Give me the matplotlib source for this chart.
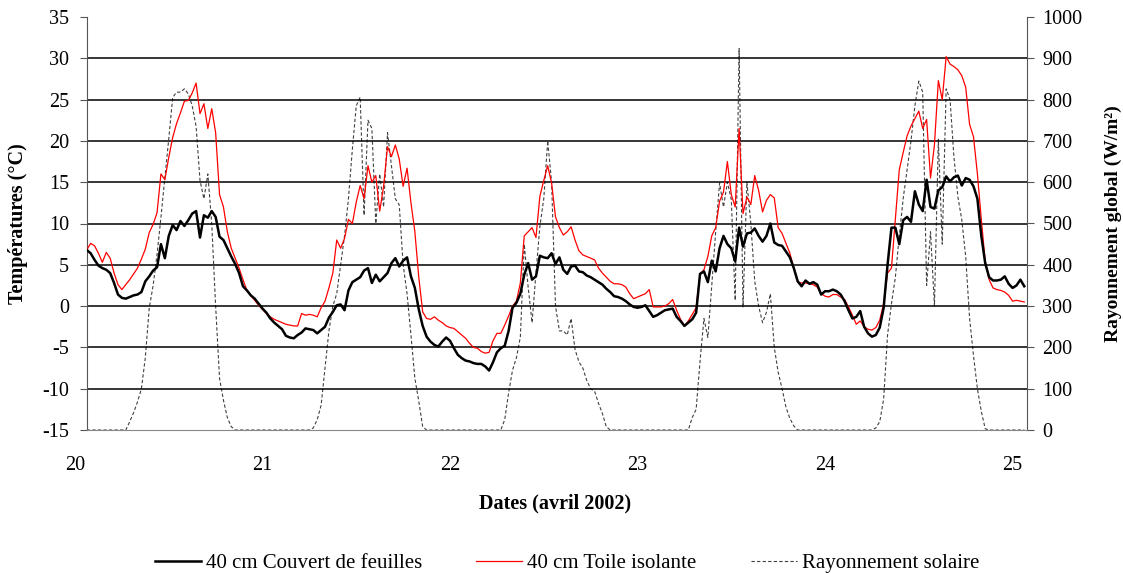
import numpy as np
import matplotlib
matplotlib.use('Agg')
import matplotlib.pyplot as plt
import matplotlib.transforms as mtransforms

plt.rcParams['font.family'] = ['Liberation Serif', 'DejaVu Serif']
plt.rcParams['axes.unicode_minus'] = False

# mesures toutes les 30 min, a partir du 20 avril 1h30
heures = np.arange(241) * 0.5 + 1.5
dates = 20 + heures / 24.0

# 40 cm Couvert de feuilles (°C)
couvert = [
    6.8, 6.4, 5.6, 4.9, 4.6, 4.4, 4.0, 2.8, 1.4, 1.0,
    0.9, 1.1, 1.3, 1.4, 1.7, 3.0, 3.6, 4.3, 4.7, 7.5,
    5.8, 8.5, 9.8, 9.2, 10.3, 9.7, 10.4, 11.2, 11.5, 8.3,
    11.0, 10.7, 11.5, 10.8, 8.4, 8.0, 7.0, 6.0, 5.1, 4.0,
    2.4, 1.9, 1.3, 0.9, 0.3, -0.3, -0.8, -1.5, -2.0, -2.4,
    -2.8, -3.6, -3.8, -3.9, -3.5, -3.2, -2.7, -2.8, -2.9, -3.3,
    -2.9, -2.5, -1.4, -0.7, 0.1, 0.2, -0.5, 1.9, 2.9, 3.2,
    3.5, 4.3, 4.6, 2.8, 3.8, 3.0, 3.5, 4.0, 5.2, 5.8,
    4.8, 5.5, 5.9, 3.6, 2.2, -0.4, -2.4, -3.7, -4.3, -4.7,
    -4.9, -4.3, -3.8, -4.2, -5.1, -5.9, -6.3, -6.6, -6.7, -6.9,
    -7.0, -7.0, -7.3, -7.8, -6.8, -5.6, -5.1, -4.8, -3.0, -0.2,
    0.4, 1.5, 3.8, 5.2, 3.2, 3.6, 6.1, 5.9, 5.8, 6.4,
    5.1, 5.9, 4.4, 3.9, 4.8, 4.9, 4.2, 4.1, 3.7, 3.5,
    3.2, 2.9, 2.6, 2.1, 1.7, 1.2, 1.1, 0.9, 0.6, 0.2,
    -0.1, -0.2, -0.1, 0.1, -0.6, -1.3, -1.1, -0.8, -0.5, -0.4,
    -0.3, -1.3, -1.8, -2.4, -2.0, -1.6, -0.8, 3.9, 4.2, 2.9,
    5.5, 4.2, 7.0, 8.5, 7.5, 7.0, 5.4, 9.5, 7.2, 8.8,
    8.9, 9.4, 8.5, 7.8, 8.5, 10.0, 7.7, 7.4, 7.3, 6.6,
    5.9, 4.6, 3.0, 2.4, 3.1, 2.7, 2.9, 2.6, 1.4, 1.8,
    1.8, 2.0, 1.8, 1.4, 0.6, -0.5, -1.5, -1.3, -0.6, -2.5,
    -3.3, -3.7, -3.5, -2.6, -0.2, 5.0, 9.5, 9.5, 7.5, 10.4,
    10.8, 10.2, 13.9, 12.3, 11.5, 15.3, 12.0, 11.8, 14.0, 14.4,
    15.7, 15.1, 15.6, 15.8, 14.6, 15.5, 15.3, 14.5, 13.0, 8.5,
    5.2, 3.5, 3.1, 3.1, 3.2, 3.6, 2.7, 2.2, 2.5, 3.2,
    2.4,
]

# 40 cm Toile isolante (°C)
toile = [
    6.8, 7.6, 7.3, 6.4, 5.3, 6.5, 5.8, 4.0, 2.6, 2.0,
    2.6, 3.2, 3.9, 4.6, 5.7, 6.9, 8.9, 9.9, 11.3, 16.0,
    15.3, 18.0, 20.4, 22.1, 23.4, 24.8, 24.9, 25.8, 27.0, 23.3,
    24.5, 21.5, 23.9, 21.0, 13.5, 12.0, 9.0, 7.0, 5.8, 4.6,
    3.2, 1.9, 1.3, 0.7, 0.1, -0.4, -0.9, -1.3, -1.6, -1.8,
    -2.0, -2.2, -2.3, -2.4, -2.4, -0.9, -1.1, -1.0, -1.1, -1.3,
    -0.2, 0.6, 2.2, 4.0, 8.0, 7.0, 8.2, 10.5, 10.0, 12.6,
    14.6, 13.0, 17.0, 15.0, 15.8, 11.5, 14.5, 19.3, 18.1, 19.5,
    17.8, 14.5, 16.7, 12.5, 9.0, 3.5, -0.7, -1.5, -1.6, -1.3,
    -1.7, -2.0, -2.4, -2.6, -2.7, -3.1, -3.5, -3.9, -4.5, -5.0,
    -5.1, -5.5, -5.7, -5.6, -4.2, -3.3, -3.3, -2.3, -1.2, 0.0,
    0.6, 2.8, 8.5, 9.0, 9.5, 8.3, 13.3, 15.2, 17.0, 14.9,
    10.8, 9.5, 8.6, 9.0, 9.6, 8.0, 6.7, 6.2, 6.0, 5.8,
    5.6, 4.6, 4.0, 3.5, 3.0, 2.7, 2.7, 2.6, 2.3, 1.5,
    0.9, 1.1, 1.3, 1.5, 2.0, -0.1, -0.1, -0.1, 0.0, 0.3,
    0.8, -0.5, -1.6, -2.4, -1.8, -1.0, -0.2, 3.9, 4.4, 6.0,
    8.5, 9.5, 12.7, 13.8, 17.5, 13.5, 12.0, 21.5, 11.2, 13.2,
    12.3, 15.8, 14.0, 11.4, 12.8, 13.5, 13.1, 9.5, 8.8, 7.6,
    6.4, 4.6, 2.9, 2.8, 2.8, 2.7, 2.6, 2.3, 1.5, 1.2,
    1.1, 1.4, 1.4, 1.1, 0.8, -0.1, -1.1, -2.2, -1.8, -2.5,
    -2.8, -2.9, -2.6, -1.7, 0.3, 4.0, 4.6, 10.5, 16.5, 18.6,
    20.6, 21.8, 22.7, 23.6, 21.5, 22.6, 15.5, 19.5, 27.3, 25.0,
    30.2, 29.3, 29.0, 28.6, 27.9, 26.5, 22.0, 20.5, 16.0, 10.5,
    5.4, 3.2, 2.2, 2.0, 1.9, 1.7, 1.3, 0.6, 0.7, 0.6,
    0.5,
]

# Rayonnement solaire (W/m2)
rayonnement = [
    0, 0, 0, 0, 0, 0, 0, 0, 0, 0,
    0, 20, 42, 68, 100, 175, 295, 350, 425, 515,
    610, 705, 805, 818, 818, 826, 814, 785, 735, 604,
    560, 620, 500, 300, 125, 72, 30, 8, 0, 0,
    0, 0, 0, 0, 0, 0, 0, 0, 0, 0,
    0, 0, 0, 0, 0, 0, 0, 0, 5, 25,
    60, 150, 240, 300, 330, 400, 470, 560, 680, 785,
    806, 520, 750, 730, 500, 620, 540, 720, 640, 560,
    545, 400, 330, 230, 125, 70, 8, 0, 0, 0,
    0, 0, 0, 0, 0, 0, 0, 0, 0, 0,
    0, 0, 0, 0, 0, 0, 0, 25, 90, 145,
    175, 225, 450, 346, 260, 380, 493, 560, 700, 600,
    300, 240, 240, 230, 270, 195, 165, 150, 120, 100,
    94, 65, 40, 8, 0, 0, 0, 0, 0, 0,
    0, 0, 0, 0, 0, 0, 0, 0, 0, 0,
    0, 0, 0, 0, 0, 30, 50, 167, 270, 224,
    350, 480, 598, 540, 600, 558, 314, 924, 298, 600,
    500, 360, 300, 260, 285, 330, 200, 140, 100, 55,
    28, 10, 0, 0, 0, 0, 0, 0, 0, 0,
    0, 0, 0, 0, 0, 0, 0, 0, 0, 0,
    0, 0, 5, 20, 75, 230, 306, 370, 470, 560,
    630, 700, 785, 845, 818, 350, 480, 300, 704, 450,
    826, 800, 660, 565, 509, 420, 270, 180, 100, 45,
    3, 0, 0, 0, 0, 0, 0, 0, 0, 0,
    0,
]

jours = [20, 21, 22, 23, 24, 25]
temp_ticks = list(range(-15, 36, 5))
ray_ticks = list(range(0, 1001, 100))

fig = plt.figure(figsize=(11.23, 5.73), dpi=100)
ax = fig.add_axes([87 / 1123, 1 - 430 / 573, 940 / 1123, 413 / 573])
ax2 = ax.twinx()
ax.set_zorder(2)
ax2.set_zorder(1)
ax.patch.set_visible(False)

for v in temp_ticks[1:-1]:
    ax.axhline(v, color='black', lw=1.1, zorder=1)

l3, = ax2.plot(dates, rayonnement, color='#404040', lw=0.8, dashes=(3, 2))
l2, = ax.plot(dates, toile, color='red', lw=0.9, zorder=3)
l1, = ax.plot(dates, couvert, color='black', lw=1.8, zorder=4)

ax.set_xlim(20.064, 25.077)
ax.set_ylim(-15, 35)
ax2.set_ylim(0, 1000)
ax.set_yticks(temp_ticks)
ax2.set_yticks(ray_ticks)
ax.set_xticks([])

for a in (ax, ax2):
    a.spines['top'].set_visible(False)
ax.spines['right'].set_visible(False)
ax2.spines['left'].set_visible(False)
ax2.spines['bottom'].set_visible(False)
ax.spines['left'].set_color('#555555')
ax.spines['bottom'].set_color('#888888')
ax2.spines['right'].set_color('#555555')

ax.tick_params(axis='y', direction='out', length=5, width=0.8, color='#555555',
               pad=8, labelsize=14.5)
ax2.tick_params(axis='y', direction='out', length=5, width=0.8, color='#555555',
                pad=6, labelsize=14.5)

trans = mtransforms.blended_transform_factory(ax.transData, ax.transAxes)
for d in jours:
    ax.text(d, -0.087, str(d), transform=trans, ha='center', va='center',
            fontsize=14.5, clip_on=False)

ax.set_ylabel('Températures (°C)', fontsize=14.5, fontweight='bold')
ax.yaxis.set_label_coords(-0.0625, 0.5)
ax2.set_ylabel('Rayonnement global (W/m²)', fontsize=14, fontweight='bold')
ax2.yaxis.set_label_coords(1.083, 0.5)
fig.text(555 / 1123, 1 - 503 / 573, 'Dates (avril 2002)', ha='center', va='center',
         fontsize=14.5, fontweight='bold')

fig.legend([l1, l2, l3],
           ['40 cm Couvert de feuilles', '40 cm Toile isolante', 'Rayonnement solaire'],
           loc='center', bbox_to_anchor=(0.505, 1 - 563 / 573), ncol=3, frameon=False,
           fontsize=15, handlelength=2.2, handletextpad=0.25, columnspacing=2.6,
           borderpad=0.1)

fig.savefig('out.png', dpi=100)
